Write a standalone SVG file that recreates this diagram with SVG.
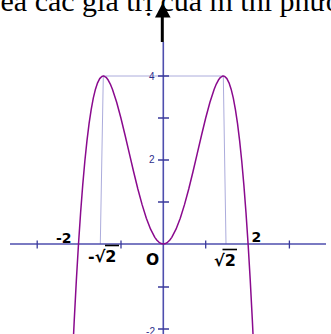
<svg xmlns="http://www.w3.org/2000/svg" width="331" height="334" viewBox="0 0 331 334">
<style>
.axis{stroke:#4e4eae;stroke-width:1.6;fill:none}
.tick{stroke:#3a3a9a;stroke-width:1.3;fill:none}
.guide{stroke:#acacdc;stroke-width:1;fill:none}
.curve{stroke:#8a0a8e;stroke-width:1.5;fill:none;stroke-linejoin:round}
.lbl{font-family:"DejaVu Sans",sans-serif;font-weight:bold;fill:#000}
.ylbl{font-family:"Liberation Sans",Arial,sans-serif;font-size:10px;fill:#2e2e8a}
.head{font-family:"Liberation Serif","Times New Roman",serif;font-size:30px;fill:#000}
</style>
<rect width="331" height="334" fill="#fff"/>
<text class="head" x="0.5" y="11">ea các giá trị của m thì phương</text>
<g id="guides">
<line class="guide" x1="103.3" y1="76" x2="223.3" y2="76"/>
<line class="guide" x1="103.3" y1="76" x2="100.3" y2="244"/>
<line class="guide" x1="223.3" y1="76" x2="226" y2="244"/>
</g>
<g id="axes">
<line class="axis" x1="10" y1="244" x2="326" y2="244"/>
<line class="axis" x1="163.3" y1="42" x2="163.3" y2="334"/>
<path class="tick" d="M37.2 240.5V248.5M121 240.5V248.5M205.7 240.5V248.5M289.4 240.5V248.5M158 76H169M158 118H169M158 160H169M158 202H169M158 287H169M158 329H169"/>
</g>
<g id="curve">
<polyline class="curve" points="72.14,364.86 74.26,319.94 76.38,279.74 78.5,244 80.62,212.46 82.74,184.87 84.86,161 86.98,140.58 89.1,123.41 91.22,109.27 93.34,97.92 95.46,89.17 97.58,82.8 99.7,78.63 101.82,76.44 103.34,76 103.94,76.07 106.06,77.32 108.18,80.04 110.3,84.04 112.42,89.17 116.66,102.21 120.9,118 125.14,135.48 129.38,153.68 133.62,171.76 137.86,188.96 142.1,204.63 146.34,218.2 150.58,229.22 154.82,237.35 156.94,240.24 159.06,242.32 161.18,243.58 163.3,244 165.42,243.58 167.54,242.32 169.66,240.24 171.78,237.35 176.02,229.22 180.26,218.2 184.5,204.63 188.74,188.96 192.98,171.76 197.22,153.68 201.46,135.48 205.7,118 209.94,102.21 214.18,89.17 216.3,84.04 218.42,80.04 220.54,77.32 222.66,76.07 223.26,76 224.78,76.44 226.9,78.63 229.02,82.8 231.14,89.17 233.26,97.92 235.38,109.27 237.5,123.41 239.62,140.58 241.74,161 243.86,184.87 245.98,212.46 248.1,244 250.22,279.74 252.34,319.94 254.46,364.86"/>
</g>
<g id="labels">
<text class="ylbl" x="154.5" y="79.5" text-anchor="end">4</text>
<text class="ylbl" x="154.5" y="163" text-anchor="end">2</text>
<text class="ylbl" x="155" y="335" text-anchor="end">-2</text>
<text class="lbl" x="56" y="242.5" font-size="14">-2</text>
<text class="lbl" x="251.5" y="241.5" font-size="14">2</text>
<text class="lbl" x="146" y="264.5" font-size="15.5">O</text>
<text class="lbl" x="88" y="262" font-size="16">-√2</text>
<line x1="105" y1="245.5" x2="119" y2="245.5" stroke="#000" stroke-width="1.6"/>
<text class="lbl" x="214" y="266" font-size="16">√2</text>
<line x1="222.5" y1="249.5" x2="237" y2="249.5" stroke="#000" stroke-width="1.6"/>
</g>
<g id="arrow">
<line x1="162.3" y1="16" x2="162.3" y2="42" stroke="#000" stroke-width="3"/>
<polygon points="162.6,3 155,17.5 170.6,17.5" fill="#000"/>
</g>
</svg>
